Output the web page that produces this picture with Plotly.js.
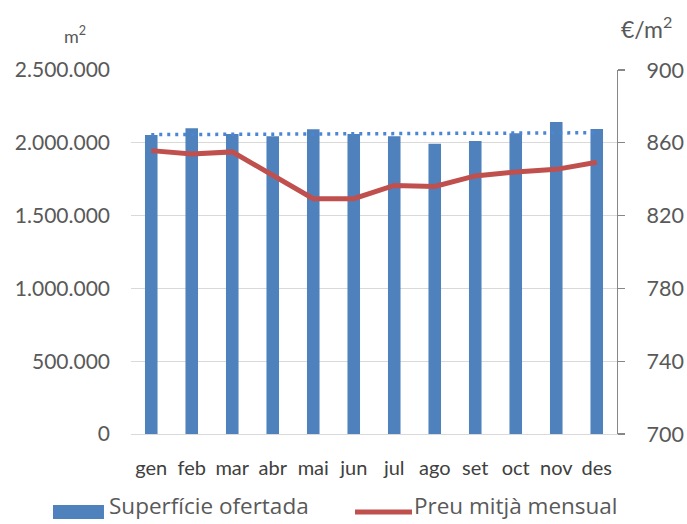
<!DOCTYPE html>
<html>
<head>
<meta charset="utf-8">
<script src="https://cdn.plot.ly/plotly-3.0.1.min.js"></script>
<style>html,body{margin:0;padding:0;background:#fff;}#chart{width:687px;height:524px;}</style>
</head>
<body>
<div id="chart"></div>
<script>
const months = ['gen','feb','mar','abr','mai','jun','jul','ago','set','oct','nov','des'];
const superficie = [2053000, 2100000, 2060000, 2045000, 2093000, 2060000, 2045000, 1994000, 2012000, 2065000, 2143000, 2095000];
const preu = [855.7, 853.8, 855.0, 842.0, 829.3, 829.3, 836.6, 836.0, 841.8, 844.0, 845.4, 849.3];
const trendMonths = ['gen', 'des'];
const trendValues = [2056000, 2069000];
const leftTicks = [0, 500000, 1000000, 1500000, 2000000, 2500000];
const rightTicks = [700, 740, 780, 820, 860, 900];

const FONT = 'Lato, "Open Sans", sans-serif';
const LFONT = '"Open Sans", Lato, sans-serif';
const GREY = '#595959';
const BLUE = '#4F81BD';
const RED = '#C0504D';

const traces = [
  {type: 'bar', x: months, y: superficie, name: 'Superfície ofertada',
   marker: {color: BLUE}, yaxis: 'y', hoverinfo: 'skip'},
  {type: 'scatter', mode: 'lines', x: trendMonths, y: trendValues, name: 'trend',
   line: {color: '#4A86D4', width: 3.5, dash: '3px,5px'}, yaxis: 'y', showlegend: false},
  {type: 'scatter', mode: 'lines', x: months, y: preu, name: 'Preu mitjà mensual',
   line: {color: RED, width: 5}, yaxis: 'y2'}
];

const layout = {
  width: 687, height: 524, autosize: false,
  margin: {l: 131, r: 70, t: 70, b: 90, pad: 0},
  paper_bgcolor: '#fff', plot_bgcolor: '#fff',
  separators: ',.',
  showlegend: false,
  bargap: 0.69,
  font: {family: FONT, color: GREY, size: 21},
  xaxis: {
    type: 'category', categoryorder: 'array', categoryarray: months,
    showgrid: false, zeroline: false,
    showline: true, linecolor: '#d9d9d9', linewidth: 1,
    ticks: '', ticklabelstandoff: 16,
    tickfont: {family: FONT, size: 20, color: '#404040'},
    fixedrange: true
  },
  yaxis: {
    range: [0, 2500000], tickvals: leftTicks, tickformat: ',d',
    showgrid: true, gridcolor: '#d9d9d9', gridwidth: 1,
    zeroline: false, showline: false, ticks: '',
    ticklabelstandoff: 20,
    tickfont: {family: FONT, size: 21, color: GREY}
  },
  yaxis2: {
    overlaying: 'y', side: 'right', range: [700, 900], tickvals: rightTicks,
    showgrid: false, zeroline: false,
    showline: true, linecolor: '#878787', linewidth: 1.3,
    ticks: 'outside', ticklen: 7, tickcolor: '#878787', tickwidth: 1.3,
    ticklabelstandoff: 17,
    tickfont: {family: FONT, size: 21.5, color: GREY}
  },
  shapes: [
    {type: 'rect', xref: 'paper', yref: 'paper', x0: -0.1605, x1: -0.0556, y0: -0.2335, y1: -0.195,
     fillcolor: BLUE, line: {width: 0}},
    {type: 'line', xref: 'paper', yref: 'paper', x0: 0.4609, x1: 0.5782, y0: -0.2143, y1: -0.2143,
     line: {color: RED, width: 5}}
  ],
  annotations: [
    {xref: 'paper', yref: 'paper', x: -0.049, y: -0.2445, xanchor: 'left', yanchor: 'bottom',
     text: 'Superfície ofertada', showarrow: false, font: {family: LFONT, size: 22.5, color: GREY}},
    {xref: 'paper', yref: 'paper', x: 0.578, y: -0.2445, xanchor: 'left', yanchor: 'bottom',
     text: 'Preu mitjà mensual', showarrow: false, font: {family: LFONT, size: 22.5, color: GREY}},
    {xref: 'paper', yref: 'paper', x: -0.1152, y: 1.096, xanchor: 'center', yanchor: 'middle',
     text: 'm<sup>2</sup>', showarrow: false, font: {family: FONT, size: 18, color: GREY}},
    {xref: 'paper', yref: 'paper', x: 1.0606, y: 1.1154, xanchor: 'center', yanchor: 'middle',
     text: '€/m<sup>2</sup>', showarrow: false, font: {family: FONT, size: 23, color: GREY}}
  ]
};

Plotly.newPlot('chart', traces, layout, {staticPlot: true, displayModeBar: false});
</script>
</body>
</html>
